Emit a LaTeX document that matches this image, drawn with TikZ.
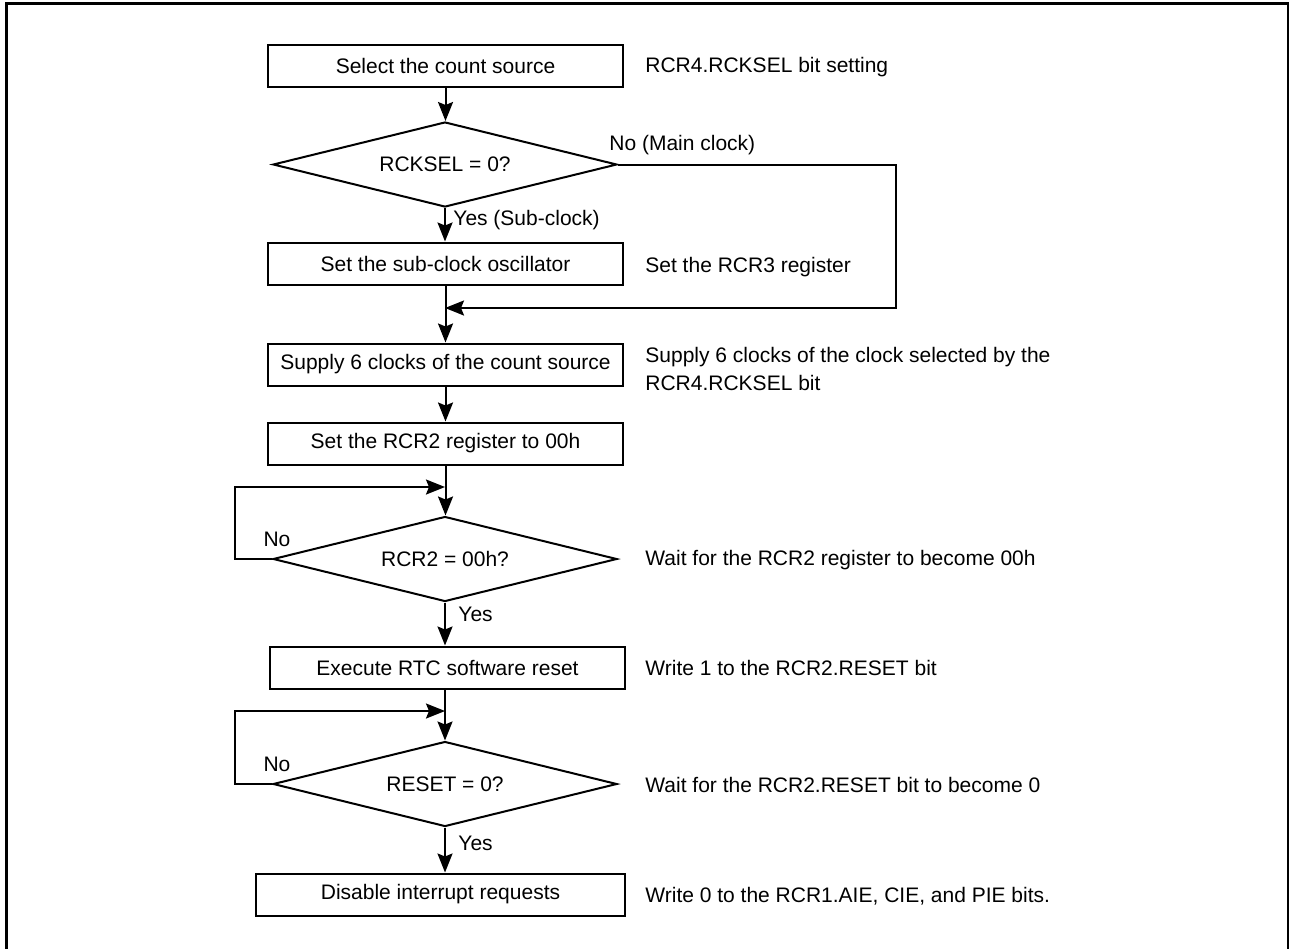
\documentclass[tikz,border=0pt]{standalone}
\usepackage{fontspec}
\setmainfont{Liberation Sans}
\usetikzlibrary{shapes.geometric,arrows.meta}

\tikzset{
	stepbox/.style={draw, line width=1pt, minimum width=177.5pt, minimum height=21pt, inner sep=0pt},
	decision/.style={draw, diamond, aspect=4, line width=1pt, minimum width=172pt, minimum height=42.5pt, inner sep=0pt},
	note/.style={anchor=west, align=left, inner sep=0pt},
	tag/.style={inner sep=0pt},
	flow/.style={line width=1pt, -{Stealth[length=9.5pt,width=7.5pt,inset=1.5pt]}},
}

\begin{document}
\begin{tikzpicture}[x=0.5pt, y=-0.5pt, font=\fontsize{10.5pt}{14pt}\selectfont]
	
	\useasboundingbox (0,0) rectangle (1289,948);
	\draw[line width=1.5pt] (6.5,960) -- (6.5,3.5) -- (1288,3.5) -- (1288,960);
	
	\node[stepbox] (select) at (445.5,65.5) {Select the count source};
	\node[decision] (rcksel) at (445,164.5) {RCKSEL = 0?};
	\node[stepbox] (subosc) at (445.5,263.5) {Set the sub-clock oscillator};
	\node[stepbox] (supply) at (445.5,364.5) {Supply 6 clocks of the count source};
	\node[stepbox] (clear) at (445.5,443.5) {Set the RCR2 register to 00h};
	\node[decision] (rcrzero) at (445,559) {RCR2 = 00h?};
	\node[stepbox] (reset) at (447.5,667.5) {Execute RTC software reset};
	\node[decision] (resetzero) at (445,784) {RESET = 0?};
	\node[stepbox, minimum width=184.5pt] (disable) at (440.5,894.5) {Disable interrupt requests};
	
	\node[note] (selectnote) at (645,67.5) {RCR4.RCKSEL bit setting};
	\node[note] (suboscnote) at (645,267) {Set the RCR3 register};
	\node[note] (supplynote) at (645,369) {Supply 6 clocks of the clock selected by the\\RCR4.RCKSEL bit};
	\node[note] (rcrzeronote) at (645,560) {Wait for the RCR2 register to become 00h};
	\node[note] (resetnote) at (645,668) {Write 1 to the RCR2.RESET bit};
	\node[note] (resetzeronote) at (645,785) {Wait for the RCR2.RESET bit to become 0};
	\node[note] (disablenote) at (645,896) {Write 0 to the RCR1.AIE, CIE, and PIE bits.};
	
	\node[tag, anchor=west] (mainno) at (609,145) {No (Main clock)};
	\node[tag, anchor=west] (subyes) at (453,220) {Yes (Sub-clock)};
	\node[tag] (noa) at (277,539) {No};
	\node[tag, anchor=west] (yesa) at (458,614) {Yes};
	\node[tag] (nob) at (277,764) {No};
	\node[tag, anchor=west] (yesb) at (458,843) {Yes};
	
	\coordinate (mainc) at (896,164.5);
	\coordinate (merge) at (445,308);
	\coordinate (backa) at (235,559);
	\coordinate (loopa) at (445,487);
	\coordinate (backb) at (235,784);
	\coordinate (loopb) at (445,711);
	
	\draw[flow] (select.south) -- (select.south |- rcksel.north);
	\draw[flow] (rcksel.south) -- (rcksel.south |- subosc.north);
	\draw[flow] (rcksel.east) -- (mainc) |- (merge);
	\draw[flow] (subosc.south) -- (subosc.south |- supply.north);
	\draw[flow] (supply.south) -- (supply.south |- clear.north);
	\draw[flow] (clear.south) -- (clear.south |- rcrzero.north);
	\draw[flow] (rcrzero.west) -- (backa) |- (loopa);
	\draw[flow] (rcrzero.south) -- (rcrzero.south |- reset.north);
	\draw[flow] (rcrzero.south |- reset.south) -- (resetzero.north);
	\draw[flow] (resetzero.west) -- (backb) |- (loopb);
	\draw[flow] (resetzero.south) -- (resetzero.south |- disable.north);
	
\end{tikzpicture}
\end{document}
